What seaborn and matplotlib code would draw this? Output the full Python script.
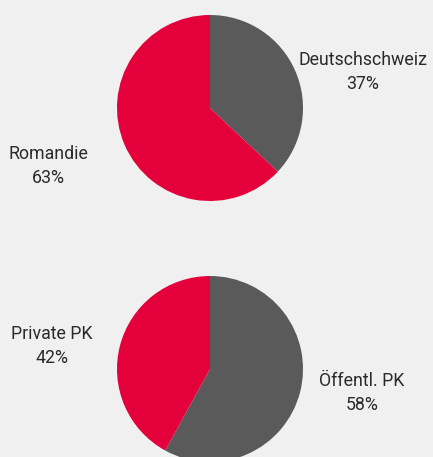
import matplotlib
matplotlib.use('Agg')
import matplotlib.pyplot as plt
import seaborn as sns

# Daten
region_labels = ['Deutschschweiz', 'Romandie']
region_shares = [37, 63]
pk_labels = ['Öffentl. PK', 'Private PK']
pk_shares = [58, 42]

GRAY = '#5a5a5a'
RED = '#e4003a'
BG = '#f0f0f0'

sns.set_style('white')
plt.rcParams['font.family'] = ['Roboto', 'DejaVu Sans']

fig = plt.figure(figsize=(4.33, 4.57), dpi=100, facecolor=BG)
ax = fig.add_axes([0, 0, 1, 1])
ax.set_facecolor(BG)

R = 93
wedge_style = dict(linewidth=0)

# oberer Kreis: Regionen
ax.pie(region_shares, colors=[GRAY, RED], startangle=90, counterclock=False,
       center=(210, 457 - 108), radius=R, wedgeprops=wedge_style, frame=True)
# unterer Kreis: Pensionskassen
ax.pie(pk_shares, colors=[GRAY, RED], startangle=90, counterclock=False,
       center=(210, 457 - 369), radius=R, wedgeprops=wedge_style, frame=True)
ax.set_xlim(0, 433)
ax.set_ylim(0, 457)
ax.set_aspect('equal')
ax.axis('off')

txt = dict(ha='center', va='center', fontsize=12.8, color='#2a2a2a',
           linespacing=1.4)
ax.text(363, 457 - 72, f'{region_labels[0]}\n{region_shares[0]}%', **txt)
ax.text(48, 457 - 166, f'{region_labels[1]}\n{region_shares[1]}%', **txt)
ax.text(52, 457 - 346, f'{pk_labels[1]}\n{pk_shares[1]}%', **txt)
ax.text(362, 457 - 393, f'{pk_labels[0]}\n{pk_shares[0]}%', **txt)

fig.savefig('out.png', dpi=100, facecolor=BG)
